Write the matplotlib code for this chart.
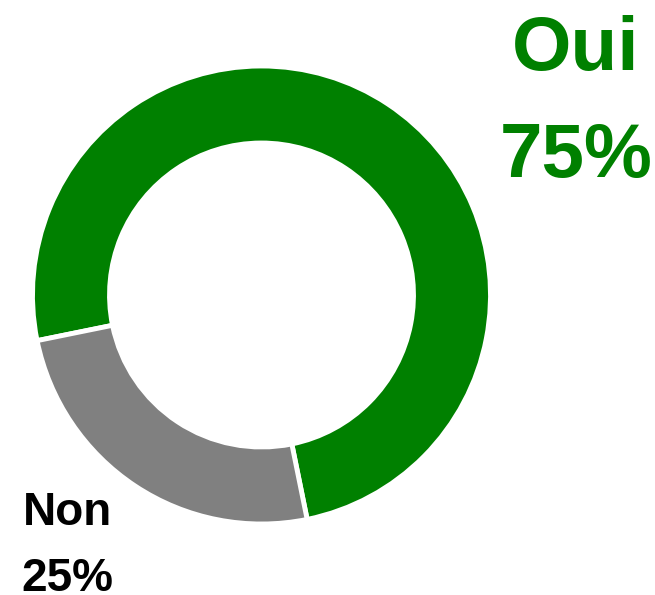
import matplotlib
matplotlib.use("Agg")
from matplotlib import pyplot as plt

# chart data
labels = ["Oui", "Non"]
values = [75, 25]
colors = ["#008000", "#808080"]

fig = plt.figure(figsize=(6.55, 5.95), dpi=100)
ax = fig.add_axes([0, 0, 1, 1])

# donut, pixel coordinates (y measured from the bottom)
ax.pie(values, colors=colors, startangle=281.5, counterclock=True,
       center=(261.5, 300), radius=229,
       wedgeprops=dict(width=77, edgecolor="white", linewidth=3.5))

# pie() resets the limits, so set them afterwards
ax.set_xlim(0, 655)
ax.set_ylim(0, 595)
ax.set_aspect("equal")
ax.axis("off")

font = "Liberation Sans"
ax.text(576, 525, labels[0], ha="center", va="baseline", fontsize=55,
        fontweight="bold", color=colors[0], family=font)
ax.text(576, 418, f"{values[0]}%", ha="center", va="baseline", fontsize=55,
        fontweight="bold", color=colors[0], family=font)
ax.text(67, 70, labels[1], ha="center", va="baseline", fontsize=33,
        fontweight="bold", color="black", family=font)
ax.text(67, 4, f"{values[1]}%", ha="center", va="baseline", fontsize=33,
        fontweight="bold", color="black", family=font)

fig.savefig("out.png", dpi=100)
